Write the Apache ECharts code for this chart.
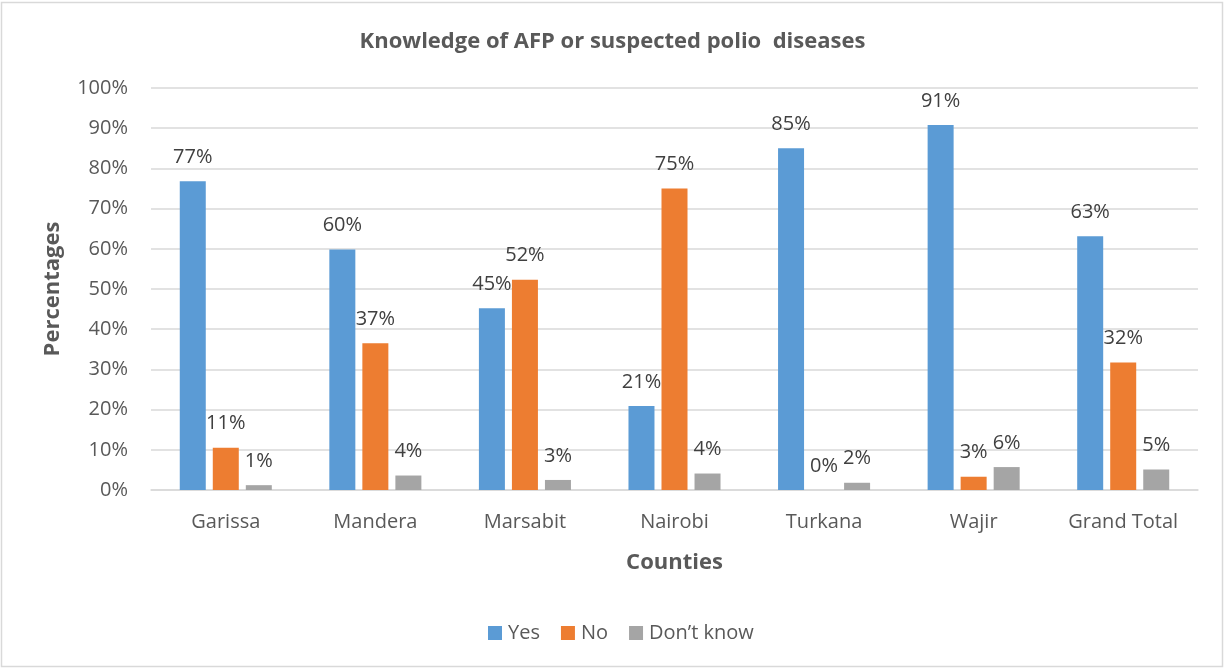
<!DOCTYPE html>
<html>
<head>
<meta charset="utf-8">
<script src="https://cdn.jsdelivr.net/npm/echarts@6/dist/echarts.min.js"></script>
<style>
  html, body { margin: 0; padding: 0; background: #fff; }
  #chart { width: 1225px; height: 669px; }
</style>
</head>
<body>
<div id="chart"></div>
<script>
// Counties surveyed
const counties = ['Garissa', 'Mandera', 'Marsabit', 'Nairobi', 'Turkana', 'Wajir', 'Grand Total'];
// Share of respondents (%) per answer
const yesValues = [76.8, 59.8, 45.2, 20.9, 85.0, 90.8, 63.1];
const noValues = [10.5, 36.5, 52.3, 75.0, 0.0, 3.3, 31.7];
const dontKnowValues = [1.2, 3.6, 2.5, 4.1, 1.8, 5.7, 5.1];
// Y axis ticks
const yTicks = [0, 10, 20, 30, 40, 50, 60, 70, 80, 90, 100];

const FONT = '"Open Sans", "Liberation Sans", sans-serif';
const AXIS_COLOR = '#595959';
const LABEL_COLOR = '#404040';

const labelStyle = {
  show: true,
  position: 'top',
  distance: 14,
  fontFamily: FONT,
  fontSize: 20,
  color: LABEL_COLOR,
  formatter: p => Math.round(p.value) + '%'
};

function barSeries(name, data, color) {
  return {
    name: name,
    type: 'bar',
    data: data,
    barWidth: 26,
    barGap: '27%',
    itemStyle: { color: color },
    label: labelStyle
  };
}

const chart = echarts.init(document.getElementById('chart'), null, { renderer: 'canvas' });
chart.setOption({
  animation: false,
  backgroundColor: '#ffffff',
  textStyle: { fontFamily: FONT },
  graphic: [{
    type: 'rect',
    shape: { x: 1.5, y: 2.5, width: 1221, height: 664 },
    style: { fill: 'none', stroke: '#d9d9d9', lineWidth: 1.5 },
    silent: true
  }],
  title: {
    text: 'Knowledge of AFP or suspected polio  diseases',
    left: 'center',
    top: 26,
    textStyle: { fontFamily: FONT, fontSize: 22, fontWeight: 'bold', color: AXIS_COLOR }
  },
  legend: {
    data: ['Yes', 'No', 'Don\u2019t know'],
    left: 483,
    top: 618,
    itemWidth: 14,
    itemHeight: 14,
    itemGap: 21,
    icon: 'rect',
    textStyle: { fontFamily: FONT, fontSize: 20, color: AXIS_COLOR, padding: [0, 0, 0, 1] }
  },
  grid: { left: 151, right: 27, top: 88, bottom: 179, containLabel: false },
  xAxis: {
    type: 'category',
    data: counties,
    name: 'Counties',
    nameLocation: 'middle',
    nameGap: 62,
    nameTextStyle: { fontFamily: FONT, fontSize: 22, fontWeight: 'bold', color: AXIS_COLOR },
    axisLine: { lineStyle: { color: '#d9d9d9', width: 1.5 } },
    axisTick: { show: false },
    axisLabel: { fontFamily: FONT, fontSize: 20, color: AXIS_COLOR, margin: 22 }
  },
  yAxis: {
    type: 'value',
    min: yTicks[0],
    max: yTicks[yTicks.length - 1],
    interval: yTicks[1] - yTicks[0],
    name: 'Percentages',
    nameLocation: 'middle',
    nameGap: 87,
    nameTextStyle: { fontFamily: FONT, fontSize: 22, fontWeight: 'bold', color: AXIS_COLOR },
    axisLine: { show: false },
    axisTick: { show: false },
    splitLine: { lineStyle: { color: '#d9d9d9', width: 1.5 } },
    axisLabel: { fontFamily: FONT, fontSize: 20, color: AXIS_COLOR, margin: 23, formatter: v => v + '%' }
  },
  series: [
    barSeries('Yes', yesValues, '#5B9BD5'),
    barSeries('No', noValues, '#ED7D31'),
    barSeries('Don\u2019t know', dontKnowValues, '#A5A5A5')
  ]
});
</script>
</body>
</html>
